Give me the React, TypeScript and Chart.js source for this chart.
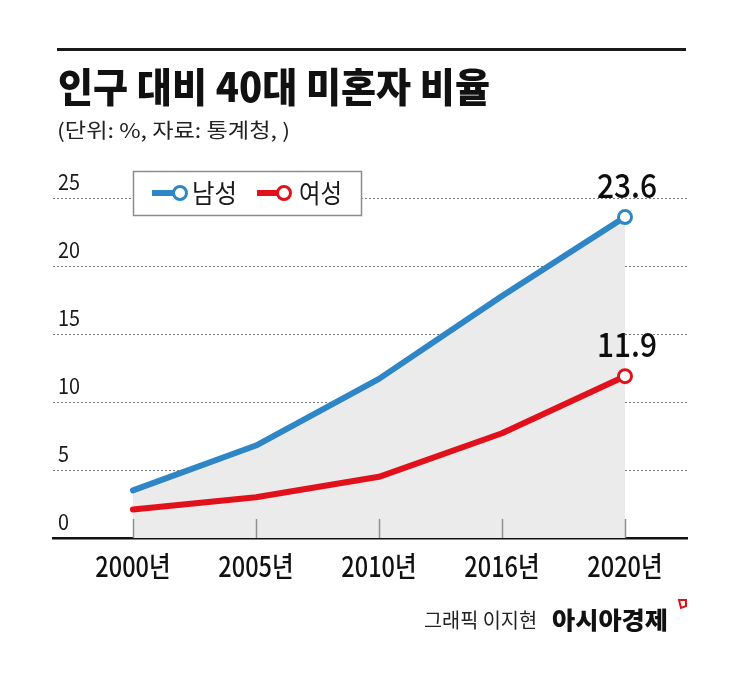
import React, { useEffect, useRef } from 'react';
import { Chart, registerables } from 'chart.js';

Chart.register(...registerables);

const categories = ['2000년', '2005년', '2010년', '2016년', '2020년'];
const seriesNames = ['남성', '여성'];
const maleValues = [3.5, 6.8, 11.7, 17.8, 23.6];
const femaleValues = [2.1, 3.0, 4.5, 7.7, 11.9];
const yTicks = [0, 5, 10, 15, 20, 25];
const titleText = '인구 대비 40대 미혼자 비율';
const subtitleText = '(단위: %, 자료: 통계청, )';
const creditText = '그래픽 이지현';
const brandText = '아시아경제';

const BLUE = '#2f86c6';
const RED = '#e1111c';
const FONT = "'Noto Sans CJK KR', 'Noto Sans', sans-serif";

function drawText(
  ctx: CanvasRenderingContext2D,
  text: string,
  x: number,
  y: number,
  font: string,
  color: string,
  opts: { width?: number; sx?: number; align?: 'left' | 'center' | 'right' } = {}
) {
  ctx.save();
  ctx.font = font;
  ctx.fillStyle = color;
  ctx.textBaseline = 'alphabetic';
  ctx.textAlign = 'left';
  const w = ctx.measureText(text).width;
  const s = opts.width ? opts.width / w : opts.sx ?? 1;
  const fw = w * s;
  let left = x;
  if (opts.align === 'center') left = x - fw / 2;
  else if (opts.align === 'right') left = x - fw;
  ctx.translate(left, y);
  ctx.scale(s, 1);
  ctx.fillText(text, 0, 0);
  ctx.restore();
}

const decor = {
  id: 'decor',
  beforeDraw(chart: any) {
    const ctx: CanvasRenderingContext2D = chart.ctx;
    ctx.save();
    ctx.fillStyle = '#ffffff';
    ctx.fillRect(0, 0, chart.width, chart.height);
    ctx.fillStyle = '#1a1a1a';
    ctx.fillRect(57, 48, 629, 3);
    ctx.restore();
    drawText(ctx, titleText, 58, 102, `900 40px ${FONT}`, '#111', { width: 432 });
    drawText(ctx, subtitleText, 57, 138, `20px ${FONT}`, '#222', { width: 233 });
    drawText(ctx, creditText, 424, 628, `20px ${FONT}`, '#222', { width: 113 });
    drawText(ctx, brandText, 552, 629, `900 24px ${FONT}`, '#111', { width: 116 });
    ctx.save();
    ctx.strokeStyle = '#e0101a';
    ctx.lineWidth = 2;
    ctx.beginPath();
    ctx.moveTo(679, 600);
    ctx.lineTo(686, 600);
    ctx.lineTo(686, 606);
    ctx.lineTo(681, 608);
    ctx.closePath();
    ctx.stroke();
    ctx.restore();
  },
  afterDatasetsDraw(chart: any) {
    const ctx: CanvasRenderingContext2D = chart.ctx;
    const xs = chart.scales.x;
    const ys = chart.scales.y;
    const bottom = chart.chartArea.bottom;
    ctx.save();
    ctx.strokeStyle = '#8f8f8f';
    ctx.lineWidth = 1.5;
    categories.forEach((_, i) => {
      const x = Math.round(xs.getPixelForValue(i)) + 0.5;
      ctx.beginPath();
      ctx.moveTo(x, bottom - 19);
      ctx.lineTo(x, bottom);
      ctx.stroke();
    });
    ctx.restore();
    yTicks.forEach((v) => {
      const y = ys.getPixelForValue(v);
      drawText(ctx, String(v), 58, y - 8, `22px ${FONT}`, '#1a1a1a', { sx: 0.9 });
    });
    categories.forEach((c, i) => {
      const x = xs.getPixelForValue(i);
      drawText(ctx, c, x, 577, `500 28px ${FONT}`, '#111', { sx: 0.84, align: 'center' });
    });
    const last = categories.length - 1;
    [maleValues, femaleValues].forEach((arr) => {
      const x = xs.getPixelForValue(last);
      const y = ys.getPixelForValue(arr[last]);
      drawText(ctx, arr[last].toFixed(1), x + 2, y - 19, `500 34px ${FONT}`, '#0d0d0d', { sx: 0.88, align: 'center' });
    });
    ctx.save();
    ctx.fillStyle = '#ffffff';
    ctx.fillRect(133, 171, 229, 45);
    ctx.strokeStyle = '#8c8c8c';
    ctx.lineWidth = 1.5;
    ctx.strokeRect(133.5, 171.5, 228, 44);
    const items = [
      { name: seriesNames[0], color: BLUE, x0: 152, cx: 180, tx: 192, tw: 45 },
      { name: seriesNames[1], color: RED, x0: 257, cx: 284, tx: 299, tw: 43 },
    ];
    items.forEach((it) => {
      ctx.strokeStyle = it.color;
      ctx.lineWidth = 6;
      ctx.lineCap = 'butt';
      ctx.beginPath();
      ctx.moveTo(it.x0, 193);
      ctx.lineTo(it.cx - 5, 193);
      ctx.stroke();
      ctx.beginPath();
      ctx.arc(it.cx, 193, 6.5, 0, Math.PI * 2);
      ctx.fillStyle = '#fff';
      ctx.fill();
      ctx.lineWidth = 3;
      ctx.stroke();
      drawText(ctx, it.name, it.tx, 203, `26px ${FONT}`, '#1a1a1a', { width: it.tw });
    });
    ctx.restore();
  },
};

export default function App() {
  const ref = useRef<HTMLCanvasElement | null>(null);
  useEffect(() => {
    if (!ref.current) return;
    const last = categories.length - 1;
    const chart = new Chart(ref.current, {
      type: 'line',
      data: {
        datasets: [
          {
            label: seriesNames[0],
            data: maleValues.map((v, i) => ({ x: i, y: v })),
            borderColor: BLUE,
            borderWidth: 6,
            backgroundColor: '#ebebeb',
            fill: 'origin',
            tension: 0,
            borderCapStyle: 'round',
            borderJoinStyle: 'round',
            pointRadius: maleValues.map((_, i) => (i === last ? 6.5 : 0)),
            pointBorderWidth: 3,
            pointBackgroundColor: '#ffffff',
            pointBorderColor: BLUE,
          },
          {
            label: seriesNames[1],
            data: femaleValues.map((v, i) => ({ x: i, y: v })),
            borderColor: RED,
            borderWidth: 6,
            fill: false,
            tension: 0,
            borderCapStyle: 'round',
            borderJoinStyle: 'round',
            pointRadius: femaleValues.map((_, i) => (i === last ? 6.5 : 0)),
            pointBorderWidth: 3,
            pointBackgroundColor: '#ffffff',
            pointBorderColor: RED,
          },
        ],
      } as any,
      options: {
        animation: false,
        responsive: false,
        devicePixelRatio: 1,
        layout: { padding: { left: 53, right: 58, top: 198, bottom: 149 } },
        plugins: {
          legend: { display: false },
          tooltip: { enabled: false },
          filler: { drawTime: 'beforeDatasetsDraw' },
        } as any,
        scales: {
          x: {
            type: 'linear',
            min: -0.65,
            max: 4.504,
            grid: { display: false, drawTicks: false },
            ticks: { display: false },
            border: { display: true, color: '#111', width: 2.5 },
          },
          y: {
            min: 0,
            max: 25,
            ticks: { display: false, stepSize: 5 },
            grid: {
              drawTicks: false,
              lineWidth: 1,
              color: (c: any) => (c.tick && c.tick.value === 0 ? 'rgba(0,0,0,0)' : '#7a7a7a'),
            },
            border: { display: false, dash: [2, 2] },
          },
        } as any,
      },
      plugins: [decor],
    });
    return () => chart.destroy();
  }, []);
  return (
    <div style={{ position: 'absolute', left: 0, top: 0, width: 745, height: 687, background: '#fff' }}>
      <canvas ref={ref} width={745} height={687} style={{ display: 'block', width: 745, height: 687 }} />
    </div>
  );
}
